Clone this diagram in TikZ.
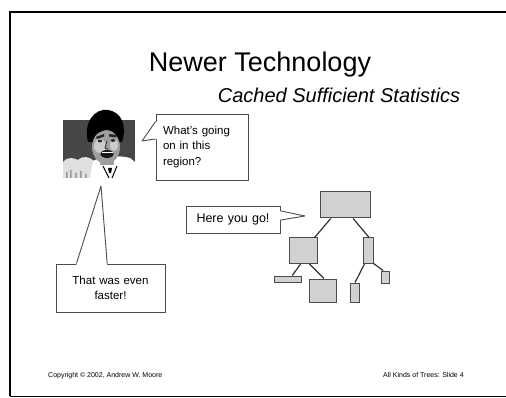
\documentclass[tikz,border=0pt]{standalone}
\usepackage{fontspec}
\setmainfont{Liberation Sans}
\usetikzlibrary{calc}
\tikzstyle{cell}=[draw=black!70,fill=black!18,line width=1pt,inner sep=0pt]

\begin{document}
\begin{tikzpicture}[x=1pt,y=-1pt]
	\tikzstyle{bubble}=[draw=black!70,fill=white,line width=0.9pt,inner xsep=7pt,inner ysep=0pt]
	\tikzstyle{tail}=[draw=black!70,line width=0.9pt,line join=round]
	\tikzstyle{link}=[draw=black!80,line width=1.2pt]
	\tikzstyle{small}=[font=\fontsize{7}{8}\selectfont,anchor=base west,inner sep=0pt]
	\useasboundingbox (0,0) rectangle (506,398);
	\draw[line width=1.6pt] (506,12) -- (10,12) -- (10,396);
	\draw[line width=0.9pt] (10,396) -- (506,396);

	\node[anchor=base,inner sep=0pt,font=\fontsize{27}{30}\selectfont] (title) at (260,72) {Newer Technology};
	\node[anchor=base,inner sep=0pt,font=\fontsize{20}{24}\selectfont\itshape] (subtitle) at (339,103) {Cached Sufficient Statistics};

	% the man asking
	\node[minimum width=72pt,minimum height=58pt,inner sep=0pt] (face) at (99,149) {};
	\fill[black!72] (face.north west) rectangle (face.south east);
	\begin{scope}
		\clip (face.north west) rectangle (face.south east);
		\fill[black!12] (63,178) -- (63,162) .. controls (68,156) and (74,158) .. (78,160) .. controls (83,155) and (90,157) .. (94,161) -- (96,178) -- cycle;
		\fill[black!40] (66,172) rectangle (67.5,178) (70,170) rectangle (71.5,178) (75,173) rectangle (76.5,178) (80,171) rectangle (81.5,178) (85,174) rectangle (86.5,178);
		\fill[white] (90,178) -- (93,161) .. controls (102,156) and (120,155) .. (130,158) -- (135,162) -- (135,178) -- cycle;
	\end{scope}
	\fill[black] (88,142) .. controls (83,122) and (95,108) .. (108,110) .. controls (122,112) and (127,126) .. (122,142) -- cycle;
	\fill[black!38] (106,147) ellipse (14 and 17);
	\fill[black!38] (100,156) rectangle (114,165);
	\fill[black!20] (100,146) ellipse (6 and 7) (114,145) ellipse (4 and 6);
	\fill[black] (92,138) .. controls (96,126) and (111,122) .. (121,133) .. controls (113,128) and (101,128) .. (92,138) -- cycle;
	\fill[black!85] (96,137) -- (104,134) -- (104,136.5) -- (97,139) -- cycle;
	\fill[black!85] (109,134) -- (117,135) -- (116,137.5) -- (109,136.5) -- cycle;
	\fill[black!85] (100,141) ellipse (2.2 and 1.4) (113,140.5) ellipse (2.2 and 1.4);
	\draw[black!80,line width=0.8pt] (107,141) -- (105,148) -- (108,149);
	\fill[black!90] (107,154) ellipse (6.5 and 4);
	\fill[white] (101.5,152) rectangle (112.5,153.5);
	\draw[black,line width=1pt] (103,166) -- (109,178) (117,166) -- (112,178);
	\fill[black] (108,168) -- (112,168) -- (111,173) -- (109,173) -- cycle;

	% callouts
	\node[bubble,text width=78pt,minimum height=66pt,align=left,font=\fontsize{11.5}{15.5}\selectfont] (ask) at (202,147) {What's going\\on in this\\region?};
	\coordinate (asktip) at (142,141);
	\coordinate (ask1) at ($(ask.north west)!.12!(ask.south west)$);
	\coordinate (ask2) at ($(ask.north west)!.38!(ask.south west)$);
	\fill[white] ($(ask1)+(1.2,0)$) -- (asktip) -- ($(ask2)+(1.2,0)$) -- cycle;
	\draw[tail] (ask1) -- (asktip) -- (ask2);

	\node[bubble,text width=95pt,minimum height=48pt,align=center,font=\fontsize{11.5}{14.5}\selectfont] (done) at (110.5,288) {That was even\\faster!};
	\coordinate (donetip) at (101,186);
	\coordinate (done1) at ($(done.north west)!.19!(done.north east)$);
	\coordinate (done2) at ($(done.north west)!.47!(done.north east)$);
	\fill[white] ($(done1)+(0,1.2)$) -- (donetip) -- ($(done2)+(0,1.2)$) -- cycle;
	\draw[tail] (done1) -- (donetip) -- (done2);

	\node[bubble,text width=80pt,minimum height=27pt,align=center,font=\fontsize{12.5}{15}\selectfont] (give) at (233,219.5) {Here you go!};
	\coordinate (givetip) at (305,216);
	\coordinate (give1) at ($(give.north east)!.19!(give.south east)$);
	\coordinate (give2) at ($(give.north east)!.52!(give.south east)$);
	\fill[white] ($(give1)+(-1.2,0)$) -- (givetip) -- ($(give2)+(-1.2,0)$) -- cycle;
	\draw[tail] (give1) -- (givetip) -- (give2);

	% the cached tree
	\node[cell,minimum width=50pt,minimum height=26pt] (root) at (345,205) {};
	\node[cell,minimum width=28pt,minimum height=25pt] (lc) at (303,250.5) {};
	\node[cell,minimum width=10pt,minimum height=25pt] (rc) at (368,250.5) {};
	\node[cell,minimum width=27pt,minimum height=6pt] (ll) at (287.5,279) {};
	\node[cell,minimum width=27pt,minimum height=23pt] (lr) at (322.5,290.5) {};
	\node[cell,minimum width=9pt,minimum height=19pt] (rl) at (354.5,292.5) {};
	\node[cell,minimum width=8pt,minimum height=12pt] (rr) at (385,277) {};
	\draw[link] ($(root.south west)!.22!(root.south east)$) -- ($(lc.north west)!.9!(lc.north east)$);
	\draw[link] ($(root.south west)!.66!(root.south east)$) -- ($(rc.north west)!.6!(rc.north east)$);
	\draw[link] ($(lc.south west)!.43!(lc.south east)$) -- ($(ll.north west)!.67!(ll.north east)$);
	\draw[link] ($(lc.south west)!.71!(lc.south east)$) -- ($(lr.north west)!.55!(lr.north east)$);
	\draw[link] ($(rc.south west)!.2!(rc.south east)$) -- ($(rl.north west)!.55!(rl.north east)$);
	\draw[link] (rc.south east) -- ($(rr.north west)!.3!(rr.north east)$);

	\node[small] (copy) at (48,377) {Copyright \textcopyright{} 2002, Andrew W. Moore};
	\node[small] (slide) at (383,377) {All Kinds of Trees: Slide 4};
\end{tikzpicture}
\end{document}
